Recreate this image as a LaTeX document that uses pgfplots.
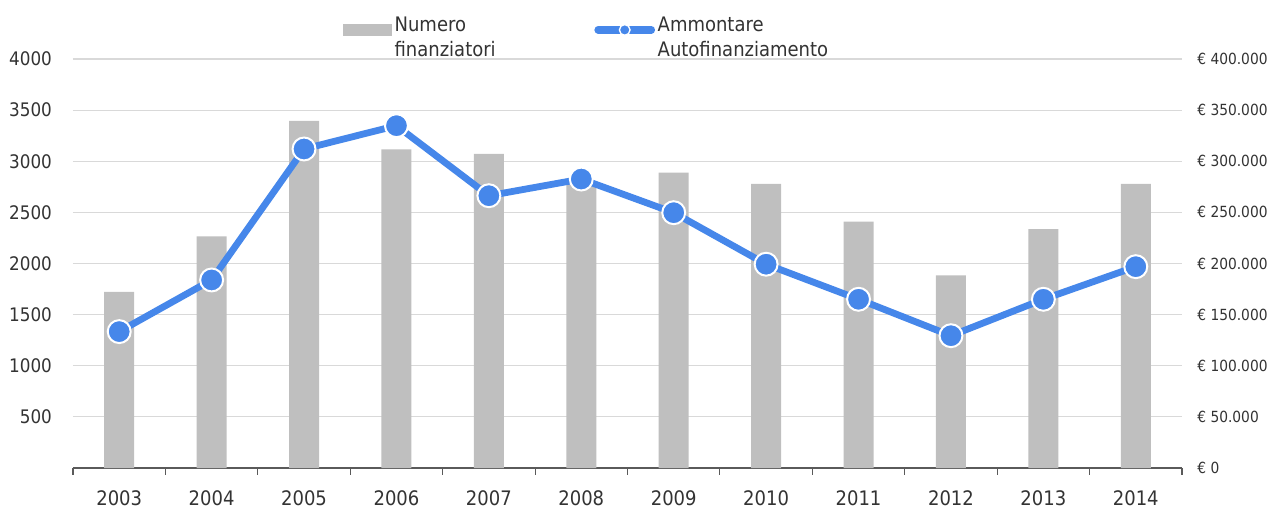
\documentclass[border=0pt]{standalone}
\usepackage{fontspec}
\setmainfont{DejaVu Sans Condensed}
\usepackage{pgfplots}
\usepackage{pgfplotstable}
\pgfplotsset{compat=1.18}

\definecolor{barc}{RGB}{191,191,191}
\definecolor{linec}{RGB}{70,135,234}
\definecolor{gridc}{RGB}{217,217,217}
\definecolor{axc}{RGB}{90,90,90}
\definecolor{txt}{RGB}{51,51,51}

\pgfplotstableread{
x n a
0 1723 133400
1 2265 183900
2 3395 312000
3 3117 334800
4 3071 266300
5 2780 282600
6 2888 249700
7 2778 199300
8 2409 165000
9 1885 129400
10 2337 165000
11 2778 196900
}\data

\begin{document}
\begin{tikzpicture}[x=1pt,y=1pt]
\begin{axis}[
  name=ax,
  scale only axis,
  width=831.75pt, height=306.75pt,
  xmin=-0.5, xmax=11.5,
  ymin=0, ymax=4000,
  axis y line*=left,
  axis x line*=bottom,
  y axis line style={draw=none},
  x axis line style={draw=axc, line width=0.8pt},
  xtick={0,...,11},
  xticklabels={2003,2004,2005,2006,2007,2008,2009,2010,2011,2012,2013,2014},
  major x tick style={draw=none},
  minor xtick={-0.5,0.5,...,11.5},
  minor x tick style={draw=axc, line width=0.8pt},
  minor tick length=5pt,
  tick align=outside,
  ytick={500,1000,...,4000},
  major y tick style={draw=none},
  ymajorgrids,
  grid style={draw=gridc, line width=0.8pt},
  tick label style={font=\fontsize{14}{16}\selectfont, text=txt},
  xticklabel style={yshift=-9pt, font=\fontsize{15}{17}\selectfont},
  yticklabel style={xshift=-8pt},
  /pgf/number format/assume math mode=true,
  /pgf/number format/1000 sep={},
  clip=false,
]
\addplot[ybar, bar width=22.5pt, fill=barc, draw=none] table[x=x, y=n] {\data};
\end{axis}
\begin{axis}[
  scale only axis,
  width=831.75pt, height=306.75pt,
  xmin=-0.5, xmax=11.5,
  ymin=0, ymax=400000,
  axis y line*=right,
  axis x line=none,
  y axis line style={draw=none},
  ytick={0,50000,...,400000},
  yticklabels={€ 0,€ 50.000,€ 100.000,€ 150.000,€ 200.000,€ 250.000,€ 300.000,€ 350.000,€ 400.000},
  major y tick style={draw=none},
  yticklabel style={font=\fontsize{11.5}{13}\selectfont, text=txt, xshift=8pt},
  scaled y ticks=false,
  clip=false,
  legend style={draw=none, fill=none, at={(0.24,1.02)}, anchor=south west, yshift=-10pt,
    font=\fontsize{15}{18.5}\selectfont, text=txt,
    cells={align=left, anchor=west},
    /tikz/every even column/.append style={column sep=72pt}},
  legend columns=2,
]
\addlegendimage{legend image code/.code={\fill[barc] (0pt,2pt) rectangle (36pt,10.25pt);}}
\addlegendentry{Numero\\finanziatori}
\addplot[draw=linec, line width=5.1pt, mark=*, mark size=8.6pt,
  mark options={fill=linec, draw=white, line width=1.5pt},
  legend image code/.code={\draw[linec, line width=5.5pt, line cap=round] (0pt,6pt) -- (40pt,6pt);
     \fill[linec, draw=white, line width=1pt] (20pt,6pt) circle (4pt);}]
  table[x=x, y=a] {\data};
\addlegendentry{Ammontare\\Autofinanziamento}
\end{axis}
\pgfresetboundingbox
\path[use as bounding box] ([xshift=-54.75pt, yshift=-31.5pt]ax.south west) rectangle ([xshift=70.5pt, yshift=44.25pt]ax.north east);
\end{tikzpicture}
\end{document}
